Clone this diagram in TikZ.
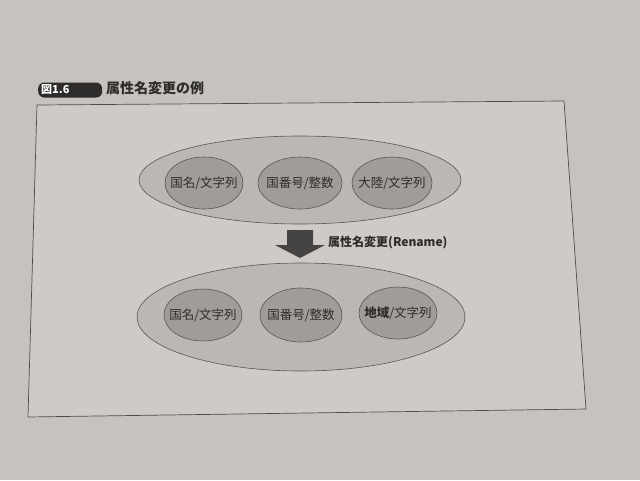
\documentclass[tikz,border=0pt]{standalone}
\usepackage{fontspec}
\newfontfamily\jp{Noto Sans CJK JP}
\usetikzlibrary{shapes.geometric}
\definecolor{pagebg}{HTML}{C6C3BE}
\definecolor{framebg}{HTML}{CECBC6}
\definecolor{outerfill}{HTML}{BBB8B3}
\definecolor{innerfill}{HTML}{A09C97}
\definecolor{ink}{HTML}{2E2D2B}
\definecolor{arrowc}{HTML}{454442}
\tikzset{
  outerell/.style={ellipse, draw=ink!80, line width=0.6pt, fill=outerfill, inner sep=0pt},
  innerell/.style={ellipse, draw=ink!80, line width=0.6pt, fill=innerfill, inner sep=0pt,
    minimum width=78pt, minimum height=52pt, font=\jp\fontsize{12.5}{13}\selectfont, text=ink},
  badge/.style={fill=ink, rounded corners=6pt, minimum width=64pt, minimum height=15pt, inner sep=0pt},
}
\newcommand{\zb}[1]{\makebox[0pt]{#1}}
\begin{document}
\begin{tikzpicture}[x=1pt,y=-1pt]
\useasboundingbox (0,0) rectangle (640,480);
\fill[pagebg] (0,0) rectangle (640,480);
% frame
\coordinate (f1) at (37,105);
\coordinate (f2) at (564,101);
\coordinate (f3) at (586,409);
\coordinate (f4) at (28,417);
\filldraw[fill=framebg, draw=ink!85, line width=0.7pt] (f1) -- (f2) -- (f3) -- (f4) -- cycle;
% title
\node[badge, anchor=west] (badge) at (38,90) {};
\node[anchor=west, text=white, font=\jp\bfseries\fontsize{11}{12}\selectfont, inner sep=0pt] (fig) at (41,90) {図1.6};
\node[anchor=west, text=ink, font=\jp\bfseries\fontsize{14}{15}\selectfont, inner sep=0pt] (title) at (106,88) {属性名変更の例};
% top group
\node[outerell, minimum width=322pt, minimum height=88pt] (top) at (300,180) {};
\node[innerell] (t1) at (204,183) {\zb{国名/文字列}};
\node[innerell, minimum width=84pt] (t2) at (300,183) {\zb{国番号/整数}};
\node[innerell, minimum width=80pt] (t3) at (392,183) {\zb{大陸/文字列}};
% arrow
\fill[arrowc] (287,230) -- (313,230) -- (313,245) -- (325,245) -- (300,258) -- (275,245) -- (287,245) -- cycle;
\node[anchor=west, text=ink, font=\jp\bfseries\fontsize{12}{13}\selectfont, inner sep=0pt] (lbl) at (328,243) {属性名変更(Rename)};
% bottom group
\node[outerell, minimum width=328pt, minimum height=108pt] (bot) at (301,317) {};
\node[innerell] (b1) at (203,315) {\zb{国名/文字列}};
\node[innerell, minimum width=82pt, minimum height=54pt] (b2) at (301,315) {\zb{国番号/整数}};
\node[innerell, minimum width=78pt] (b3) at (398,313) {\zb{\textbf{地域}/文字列}};
\end{tikzpicture}
\end{document}
